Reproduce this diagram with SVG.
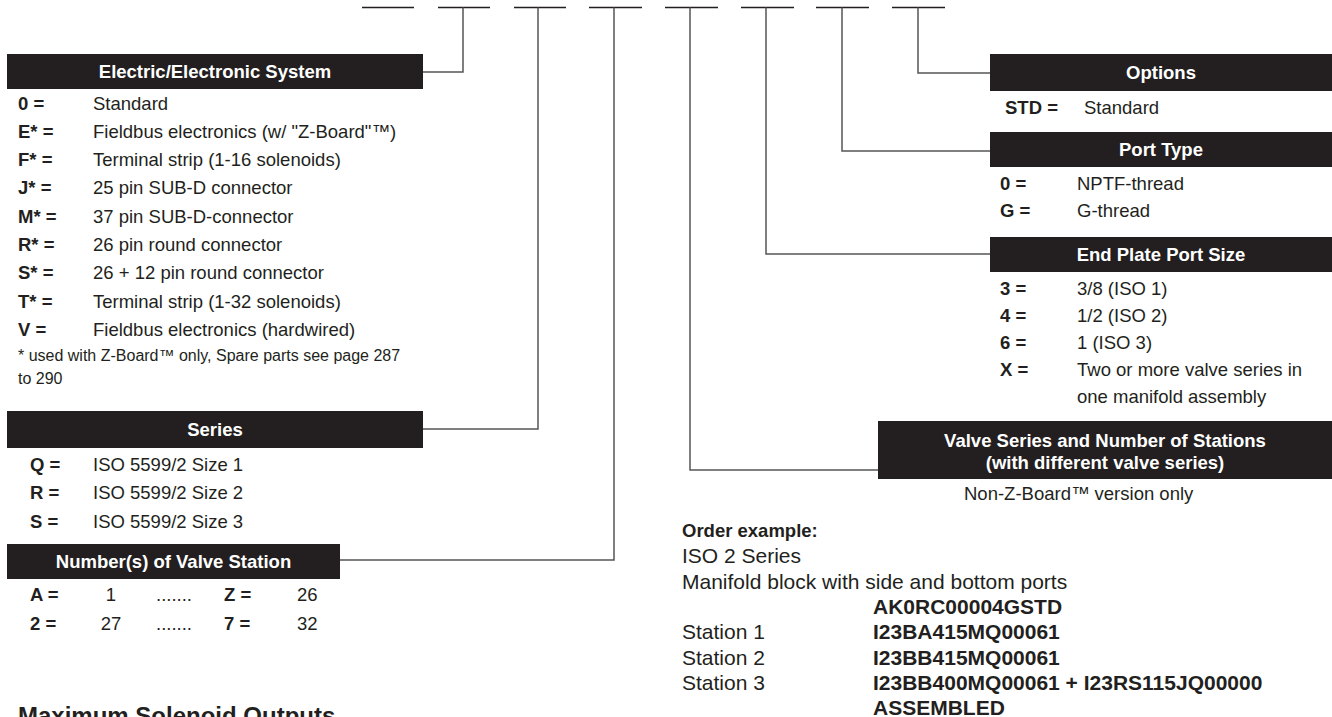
<svg xmlns="http://www.w3.org/2000/svg" width="1332" height="717" viewBox="0 0 1332 717">
<style>
.t{font-family:"Liberation Sans",Arial,sans-serif;font-size:18.5px;fill:#231f20}
.b{font-weight:bold}
.h{font-family:"Liberation Sans",Arial,sans-serif;font-size:18.5px;font-weight:bold;fill:#ffffff;text-anchor:middle}
.hdr{fill:#231f20}
.fn{font-size:16px}
.ox{font-size:21px}
.blank{stroke:#231f20;stroke-width:1.6;fill:none}
.con{stroke:#555555;stroke-width:1.5;fill:none}
.m{text-anchor:middle}
</style>
<rect width="1332" height="717" fill="#ffffff"/>
<g id="blanks">
<path class="blank" d="M362 7.5H414M438 7.5H490M514 7.5H566M589 7.5H642M665 7.5H718M741 7.5H794M816 7.5H869M892 7.5H945"/>
</g>
<g id="connectors">
<path class="con" d="M463 7.5V72H423"/>
<path class="con" d="M538 7.5V429H423"/>
<path class="con" d="M614 7.5V560H340"/>
<path class="con" d="M690 7.5V470H878"/>
<path class="con" d="M766 7.5V254H990"/>
<path class="con" d="M842 7.5V151H990"/>
<path class="con" d="M918 7.5V73H990"/>
</g>
<g id="electric">
<rect class="hdr" x="7" y="54" width="416" height="35"/>
<text class="h" x="215" y="78">Electric/Electronic System</text>
<text class="t b" x="18" y="109.5">0 =</text><text class="t" x="93" y="109.5">Standard</text>
<text class="t b" x="18" y="137.8">E* =</text><text class="t" x="93" y="137.8">Fieldbus electronics (w/ "Z-Board"™)</text>
<text class="t b" x="18" y="166.1">F* =</text><text class="t" x="93" y="166.1">Terminal strip (1-16 solenoids)</text>
<text class="t b" x="18" y="194.4">J* =</text><text class="t" x="93" y="194.4">25 pin SUB-D connector</text>
<text class="t b" x="18" y="222.7">M* =</text><text class="t" x="93" y="222.7">37 pin SUB-D-connector</text>
<text class="t b" x="18" y="251">R* =</text><text class="t" x="93" y="251">26 pin round connector</text>
<text class="t b" x="18" y="279.3">S* =</text><text class="t" x="93" y="279.3">26 + 12 pin round connector</text>
<text class="t b" x="18" y="307.6">T* =</text><text class="t" x="93" y="307.6">Terminal strip (1-32 solenoids)</text>
<text class="t b" x="18" y="335.9">V =</text><text class="t" x="93" y="335.9">Fieldbus electronics (hardwired)</text>
<text class="t fn" x="18" y="361">* used with Z-Board™ only, Spare parts see page 287</text>
<text class="t fn" x="18" y="384">to 290</text>
</g>
<g id="series">
<rect class="hdr" x="7" y="411" width="416" height="37"/>
<text class="h" x="215" y="436">Series</text>
<text class="t b" x="30" y="470.5">Q =</text><text class="t" x="93" y="470.5">ISO 5599/2 Size 1</text>
<text class="t b" x="30" y="499">R =</text><text class="t" x="93" y="499">ISO 5599/2 Size 2</text>
<text class="t b" x="30" y="527.5">S =</text><text class="t" x="93" y="527.5">ISO 5599/2 Size 3</text>
</g>
<g id="stations">
<rect class="hdr" x="7" y="544" width="333" height="35"/>
<text class="h" x="173.5" y="568">Number(s) of Valve Station</text>
<text class="t b" x="30" y="601">A =</text><text class="t m" x="111" y="601">1</text><text class="t" x="156" y="601">.......</text><text class="t b" x="224" y="601">Z =</text><text class="t" x="297" y="601">26</text>
<text class="t b" x="30" y="629.5">2 =</text><text class="t m" x="111" y="629.5">27</text><text class="t" x="156" y="629.5">.......</text><text class="t b" x="224" y="629.5">7 =</text><text class="t" x="297" y="629.5">32</text>
</g>
<g id="max-solenoid">
<text class="t b" x="18" y="723.5" style="font-size:24px">Maximum Solenoid Outputs</text>
</g>
<g id="options">
<rect class="hdr" x="990" y="54" width="342" height="37"/>
<text class="h" x="1161" y="79">Options</text>
<text class="t b" x="1005" y="113.5">STD =</text><text class="t" x="1084" y="113.5">Standard</text>
</g>
<g id="port-type">
<rect class="hdr" x="990" y="132" width="342" height="35"/>
<text class="h" x="1161" y="156">Port Type</text>
<text class="t b" x="1000" y="189.5">0 =</text><text class="t" x="1077" y="189.5">NPTF-thread</text>
<text class="t b" x="1000" y="216.5">G =</text><text class="t" x="1077" y="216.5">G-thread</text>
</g>
<g id="end-plate">
<rect class="hdr" x="990" y="237" width="342" height="35"/>
<text class="h" x="1161" y="261">End Plate Port Size</text>
<text class="t b" x="1000" y="294.5">3 =</text><text class="t" x="1077" y="294.5">3/8 (ISO 1)</text>
<text class="t b" x="1000" y="321.5">4 =</text><text class="t" x="1077" y="321.5">1/2 (ISO 2)</text>
<text class="t b" x="1000" y="348.5">6 =</text><text class="t" x="1077" y="348.5">1 (ISO 3)</text>
<text class="t b" x="1000" y="375.5">X =</text><text class="t" x="1077" y="375.5">Two or more valve series in</text>
<text class="t" x="1077" y="402.5">one manifold assembly</text>
</g>
<g id="valve-series">
<rect class="hdr" x="878" y="421" width="454" height="58"/>
<text class="h" x="1105" y="446.5">Valve Series and Number of Stations</text>
<text class="h" x="1105" y="469">(with different valve series)</text>
<text class="t" x="964" y="499.5">Non-Z-Board™ version only</text>
</g>
<g id="order-example">
<text class="t b" x="682" y="536.5">Order example:</text>
<text class="t ox" x="682" y="563">ISO 2 Series</text>
<text class="t ox" x="682" y="588.5">Manifold block with side and bottom ports</text>
<text class="t ox b" x="873" y="613.8">AK0RC00004GSTD</text>
<text class="t ox" x="682" y="639.2">Station 1</text><text class="t ox b" x="873" y="639.2">I23BA415MQ00061</text>
<text class="t ox" x="682" y="664.6">Station 2</text><text class="t ox b" x="873" y="664.6">I23BB415MQ00061</text>
<text class="t ox" x="682" y="690">Station 3</text><text class="t ox b" x="873" y="690">I23BB400MQ00061 + I23RS115JQ00000</text>
<text class="t ox b" x="873" y="715.4">ASSEMBLED</text>
</g>
</svg>
